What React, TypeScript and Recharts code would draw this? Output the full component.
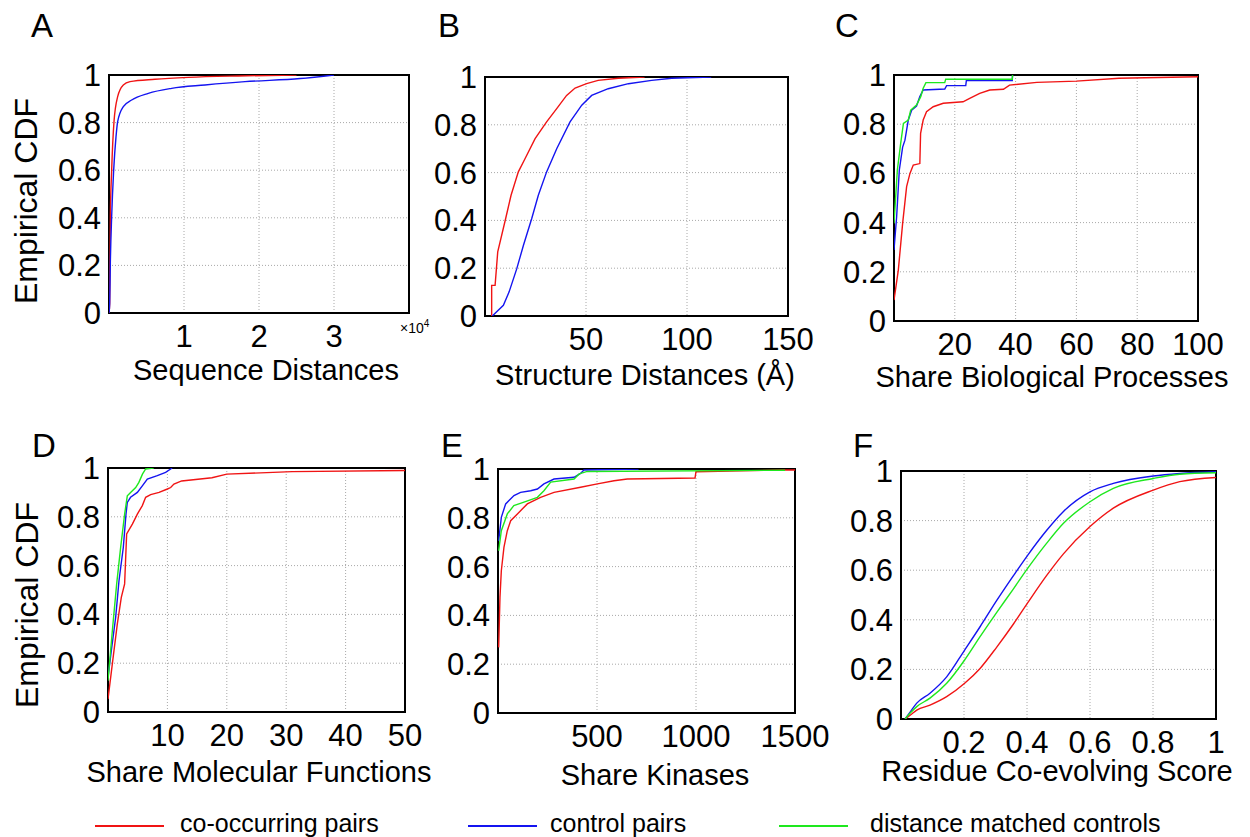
import React from "react";
import { LineChart, Line, XAxis, YAxis, CartesianGrid, ReferenceArea } from "recharts";

type Pt = { x: number; y: number };
const pts = (rows: number[][]): Pt[] => rows.map(([x, y]) => ({ x, y }));

const RED = "#f01414";
const BLUE = "#1414f0";
const GREEN = "#1ee81e";
const FONT = "'Liberation Sans', Arial, sans-serif";

const yTicks = [0, 0.2, 0.4, 0.6, 0.8, 1];

// A: sequence distances (x10^4)
const seqTicks = [10000, 20000, 30000];
const seqCooccur = pts([[0, 0], [90, 0.04], [178, 0.405], [355, 0.6], [667, 0.804], [1155, 0.909], [1910, 0.958], [2800, 0.972], [6130, 0.982], [10570, 0.99], [17240, 0.996], [25000, 1]]);
const seqControl = pts([[0, 0], [90, 0.04], [178, 0.21], [355, 0.405], [622, 0.6], [933, 0.74], [1155, 0.804], [1910, 0.867], [3020, 0.895], [5240, 0.923], [8350, 0.944], [12800, 0.958], [18130, 0.972], [25500, 0.985], [30000, 1]]);

// B: structure distances
const structTicks = [50, 100, 150];
const structCooccur = pts([[3.3, 0], [3.3, 0.128], [5, 0.128], [6.3, 0.268], [10.2, 0.407], [12.9, 0.505], [16.5, 0.603], [19.8, 0.658], [24.8, 0.742], [30.5, 0.812], [35.5, 0.868], [40.4, 0.923], [44.6, 0.954], [50.3, 0.972], [56, 0.986], [66, 0.995], [79, 1]]);
const structControl = pts([[3.6, 0], [9.1, 0.045], [11.9, 0.1], [15.7, 0.197], [19, 0.295], [23.1, 0.407], [26.4, 0.505], [30.5, 0.603], [35.5, 0.7], [42.1, 0.812], [47.9, 0.882], [52.8, 0.923], [61, 0.951], [71, 0.972], [82.5, 0.986], [92.4, 0.995], [112, 1]]);

// C: shared biological processes
const bioTicks = [20, 40, 60, 80, 100];
const bioCooccur = pts([[0, 0.085], [1.42, 0.207], [2.84, 0.397], [4.15, 0.546], [5.25, 0.6], [6.34, 0.634], [8.5, 0.64], [8.75, 0.763], [9.6, 0.817], [10.7, 0.851], [12.9, 0.871], [16.2, 0.885], [22.7, 0.891], [24.9, 0.905], [28.2, 0.925], [31.5, 0.939], [36, 0.942], [38, 0.959], [47, 0.97], [60, 0.975], [74, 0.987], [100, 0.993]]);
const bioControl = pts([[0, 0.289], [0.87, 0.424], [1.75, 0.614], [2.84, 0.707], [3.6, 0.735], [4.7, 0.817], [5.8, 0.857], [7.4, 0.874], [8.5, 0.912], [9.6, 0.939], [16.7, 0.943], [17.3, 0.957], [23.6, 0.957], [23.8, 0.977], [38.9, 0.977], [39, 1]]);
const bioMatched = pts([[0, 0.397], [1.1, 0.614], [2.2, 0.722], [3.1, 0.803], [4.7, 0.817], [5.5, 0.857], [7.4, 0.878], [8.8, 0.912], [9.6, 0.946], [10.5, 0.969], [16.7, 0.969], [17, 0.983], [38.9, 0.983], [39, 1]]);

// D: shared molecular functions
const molTicks = [10, 20, 30, 40, 50];
const molCooccur = pts([[0, 0.053], [0.73, 0.197], [1.57, 0.361], [2.24, 0.47], [2.8, 0.525], [3.14, 0.73], [4.1, 0.77], [4.94, 0.811], [5.78, 0.846], [6.34, 0.88], [7.18, 0.891], [8.6, 0.9], [10, 0.914], [10.55, 0.92], [11.1, 0.934], [12.4, 0.947], [17.5, 0.96], [20, 0.975], [31, 0.985], [50, 0.99]]);
const molControl = pts([[0, 0.142], [0.56, 0.251], [1.29, 0.388], [1.85, 0.538], [2.58, 0.675], [3.03, 0.811], [3.25, 0.859], [3.8, 0.88], [4.94, 0.9], [5.78, 0.927], [6.62, 0.955], [8.3, 0.969], [9.7, 0.982], [10.55, 0.996], [10.8, 1]]);
const molMatched = pts([[0, 0.128], [0.73, 0.333], [1.46, 0.525], [2.13, 0.675], [2.8, 0.811], [3.25, 0.886], [3.8, 0.9], [4.66, 0.92], [5.2, 0.941], [5.8, 0.975], [6.34, 0.996], [7.7, 1]]);

// E: shared kinases
const kinTicks = [500, 1000, 1500];
const kinCooccur = pts([[3.4, 0.269], [10, 0.474], [16.8, 0.583], [30, 0.679], [47, 0.747], [64, 0.788], [98, 0.816], [148, 0.857], [215, 0.884], [283, 0.904], [417, 0.925], [502, 0.939], [586, 0.952], [653, 0.959], [995, 0.963], [1000, 0.989], [1440, 0.996], [1500, 0.996]]);
const kinControl = pts([[3.4, 0.706], [16.8, 0.802], [38.7, 0.857], [80.8, 0.891], [114, 0.904], [165, 0.911], [199, 0.918], [232, 0.939], [283, 0.959], [384, 0.966], [417, 0.982], [434, 0.996], [710, 1]]);
const kinMatched = pts([[3.4, 0.665], [16.8, 0.747], [47, 0.816], [80, 0.85], [131, 0.864], [199, 0.884], [232, 0.911], [266, 0.946], [384, 0.959], [410, 0.98], [451, 0.99], [1450, 0.995]]);

// F: residue co-evolving score
const scoreTicks = [0.2, 0.4, 0.6, 0.8, 1];
const scoreCooccur = pts([[0.013, 0], [0.03, 0.016], [0.05, 0.036], [0.092, 0.056], [0.145, 0.09], [0.202, 0.144], [0.251, 0.204], [0.304, 0.29], [0.357, 0.383], [0.402, 0.468], [0.462, 0.578], [0.515, 0.665], [0.6, 0.776], [0.674, 0.85], [0.801, 0.923], [0.885, 0.957], [1, 0.974]]);
const scoreControl = pts([[0.013, 0], [0.03, 0.03], [0.05, 0.064], [0.092, 0.104], [0.145, 0.17], [0.202, 0.278], [0.251, 0.372], [0.304, 0.478], [0.357, 0.578], [0.402, 0.66], [0.462, 0.76], [0.515, 0.836], [0.6, 0.916], [0.674, 0.95], [0.801, 0.98], [0.885, 0.99], [1, 0.997]]);
const scoreMatched = pts([[0.013, 0], [0.03, 0.025], [0.05, 0.05], [0.092, 0.084], [0.145, 0.144], [0.202, 0.238], [0.251, 0.332], [0.304, 0.43], [0.357, 0.525], [0.402, 0.607], [0.462, 0.708], [0.515, 0.788], [0.6, 0.876], [0.674, 0.93], [0.801, 0.97], [0.885, 0.987], [1, 0.993]]);

type Series = { name: string; data: Pt[]; color: string };
type Rect = { x: number; y: number; w: number; h: number };

const ML = 70;
const MR = 45;
const MT = 22;
const XH = 50;

function Panel(props: {
  plot: Rect;
  xMax: number;
  xTicks: number[];
  xFmt?: (v: number) => string;
  series: Series[];
  curve: "linear" | "monotone";
}) {
  const { plot, xMax, xTicks, xFmt, series, curve } = props;
  return (
    <div style={{ position: "absolute", left: plot.x - ML, top: plot.y - MT }}>
      <LineChart
        width={plot.w + ML + MR}
        height={plot.h + MT + XH}
        margin={{ top: MT, right: MR, left: 0, bottom: 0 }}
      >
        <CartesianGrid stroke="#a8a8a8" strokeDasharray="1 2" />
        <XAxis
          dataKey="x"
          type="number"
          domain={[0, xMax]}
          ticks={xTicks}
          tickFormatter={xFmt}
          interval={0}
          height={XH}
          axisLine={false}
          tickLine={false}
          tickMargin={6}
          allowDataOverflow
          tick={{ fontSize: 31, fill: "#000" }}
        />
        <YAxis
          type="number"
          domain={[0, 1]}
          ticks={yTicks}
          interval={0}
          width={ML}
          axisLine={false}
          tickLine={false}
          allowDataOverflow
          tick={{ fontSize: 31, fill: "#000" }}
        />
        <ReferenceArea x1={0} x2={xMax} y1={0} y2={1} fill="none" stroke="#000" strokeWidth={2} ifOverflow="visible" />
        {series.map((s) => (
          <Line
            key={s.name}
            data={s.data}
            dataKey="y"
            type={curve}
            stroke={s.color}
            strokeWidth={1.4}
            dot={false}
            isAnimationActive={false}
          />
        ))}
      </LineChart>
    </div>
  );
}

const letters = [
  { t: "A", x: 31, y: 37 },
  { t: "B", x: 438, y: 37 },
  { t: "C", x: 835, y: 37 },
  { t: "D", x: 32, y: 457 },
  { t: "E", x: 441, y: 457 },
  { t: "F", x: 853, y: 457 },
];

const titles = [
  { t: "Sequence Distances", x: 266, y: 380 },
  { t: "Structure Distances (Å)", x: 645, y: 385 },
  { t: "Share Biological Processes", x: 1052, y: 387 },
  { t: "Share Molecular Functions", x: 259, y: 782 },
  { t: "Share Kinases", x: 655, y: 785 },
  { t: "Residue Co-evolving Score", x: 1057, y: 781 },
];

const legendItems = [
  { t: "co-occurring pairs", color: RED, x: 95, tx: 180 },
  { t: "control pairs", color: BLUE, x: 468, tx: 550 },
  { t: "distance matched controls", color: GREEN, x: 779, tx: 870 },
];

export default function App() {
  return (
    <div
      style={{
        position: "absolute",
        left: 0,
        top: 0,
        width: 1250,
        height: 837,
        overflow: "hidden",
        background: "#fff",
        fontFamily: FONT,
      }}
    >
      <Panel
        plot={{ x: 109, y: 75, w: 300, h: 238 }}
        xMax={40000}
        xTicks={seqTicks}
        xFmt={(v) => String(v / 10000)}
        curve="monotone"
        series={[
          { name: "co", data: seqCooccur, color: RED },
          { name: "ctrl", data: seqControl, color: BLUE },
        ]}
      />
      <Panel
        plot={{ x: 485, y: 77, w: 303, h: 239 }}
        xMax={150}
        xTicks={structTicks}
        curve="linear"
        series={[
          { name: "co", data: structCooccur, color: RED },
          { name: "ctrl", data: structControl, color: BLUE },
        ]}
      />
      <Panel
        plot={{ x: 894, y: 75, w: 304, h: 246 }}
        xMax={100}
        xTicks={bioTicks}
        curve="linear"
        series={[
          { name: "co", data: bioCooccur, color: RED },
          { name: "ctrl", data: bioControl, color: BLUE },
          { name: "match", data: bioMatched, color: GREEN },
        ]}
      />
      <Panel
        plot={{ x: 108, y: 468, w: 297, h: 244 }}
        xMax={50}
        xTicks={molTicks}
        curve="linear"
        series={[
          { name: "co", data: molCooccur, color: RED },
          { name: "ctrl", data: molControl, color: BLUE },
          { name: "match", data: molMatched, color: GREEN },
        ]}
      />
      <Panel
        plot={{ x: 498, y: 469, w: 297, h: 244 }}
        xMax={1500}
        xTicks={kinTicks}
        curve="linear"
        series={[
          { name: "co", data: kinCooccur, color: RED },
          { name: "ctrl", data: kinControl, color: BLUE },
          { name: "match", data: kinMatched, color: GREEN },
        ]}
      />
      <Panel
        plot={{ x: 901, y: 471, w: 315, h: 248 }}
        xMax={1}
        xTicks={scoreTicks}
        curve="monotone"
        series={[
          { name: "co", data: scoreCooccur, color: RED },
          { name: "ctrl", data: scoreControl, color: BLUE },
          { name: "match", data: scoreMatched, color: GREEN },
        ]}
      />
      <svg
        width={1250}
        height={837}
        style={{ position: "absolute", left: 0, top: 0, pointerEvents: "none", fontFamily: FONT }}
      >
        {letters.map((l) => (
          <text key={l.t} x={l.x} y={l.y} fontSize={33} fill="#000">
            {l.t}
          </text>
        ))}
        {titles.map((t) => (
          <text key={t.t} x={t.x} y={t.y} fontSize={29} textAnchor="middle" fill="#000">
            {t.t}
          </text>
        ))}
        <text x={37} y={201} fontSize={32} textAnchor="middle" transform="rotate(-90 37 201)" fill="#000">
          Empirical CDF
        </text>
        <text x={38} y={605} fontSize={32} textAnchor="middle" transform="rotate(-90 38 605)" fill="#000">
          Empirical CDF
        </text>
        <text x={400} y={333} fontSize={14} fill="#000">
          ×10<tspan dy={-6} fontSize={10}>4</tspan>
        </text>
        {legendItems.map((it) => (
          <g key={it.t}>
            <line x1={it.x} x2={it.x + 69} y1={826} y2={826} stroke={it.color} strokeWidth={2} />
            <text x={it.tx} y={832} fontSize={25} fill="#000">
              {it.t}
            </text>
          </g>
        ))}
      </svg>
    </div>
  );
}
